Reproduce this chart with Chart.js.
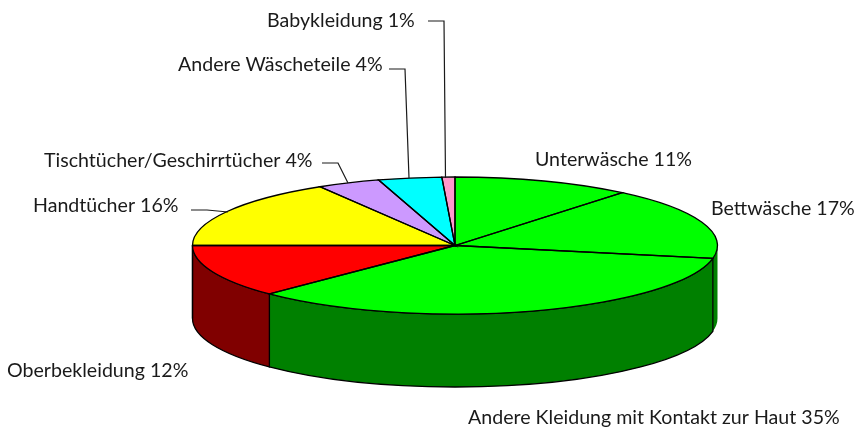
<!DOCTYPE html>
<html>
<head>
<meta charset="utf-8">
<style>
  html, body { margin: 0; padding: 0; background: #fff; }
  #wrap { width: 855px; height: 429px; }
</style>
<script src="https://cdn.jsdelivr.net/npm/chart.js@4/dist/chart.umd.min.js"></script>
</head>
<body>
<div id="wrap"><canvas id="pieChart" width="855" height="429"></canvas></div>
<script>
const categories = ['Unterwäsche', 'Bettwäsche', 'Andere Kleidung mit Kontakt zur Haut', 'Oberbekleidung', 'Handtücher', 'Tischtücher/Geschirrtücher', 'Andere Wäscheteile', 'Babykleidung'];
const printedShares = [11, 17, 35, 12, 16, 4, 4, 1];
const sliceValues = [11, 17, 34.5, 12.5, 16.4, 3.9, 3.9, 0.8];

const topColors = ['#00ff00', '#00ff00', '#00ff00', '#ff0000', '#ffff00', '#cc99ff', '#00ffff', '#ff99cc'];
const sideColors = ['#008000', '#008000', '#008000', '#800000', '#808000', '#663399', '#008080', '#993366'];

const RADIUS = 262.5;
const SQUASH = 68.5 / 262.5;
const DEPTH = 73;
const TEXT_FONT = '19.6px Lato';

// left x and baseline y of each label, same order as categories
const labelSpots = [[535, 166], [711, 215], [468, 424], [7, 377], [33, 212], [44, 167], [178, 71], [267, 26.5]];
const leaders = [
  [[191, 210], [207, 210], [228, 212]],
  [[322, 163], [338, 163], [348, 183]],
  [[389, 69], [405, 69], [409, 178]],
  [[428, 21], [444, 21], [445.5, 178]],
];

function drawWalls(ctx, arcs) {
  const ry = RADIUS * SQUASH;
  arcs.forEach((arc, i) => {
    const from = Math.max(arc.startAngle, 0);
    const to = Math.min(arc.endAngle, Math.PI);
    if (to <= from) return;
    const wall = new Path2D();
    wall.ellipse(arc.x, arc.y, RADIUS, ry, 0, from, to);
    wall.ellipse(arc.x, arc.y + DEPTH, RADIUS, ry, 0, to, from, true);
    wall.closePath();
    ctx.fillStyle = sideColors[i];
    ctx.fill(wall);
    if (from > 0) {
      ctx.strokeStyle = '#000';
      ctx.lineWidth = 1.3;
      ctx.stroke(wall);
    }
  });
}

const squashedPie = {
  id: 'squashedPie',
  beforeDatasetDraw(chart) {
    const ctx = chart.ctx;
    const arcs = chart.getDatasetMeta(0).data;
    ctx.save();
    drawWalls(ctx, arcs);
    ctx.restore();
    ctx.save();
    ctx.translate(arcs[0].x, arcs[0].y);
    ctx.scale(1, SQUASH);
    ctx.translate(-arcs[0].x, -arcs[0].y);
  },
  afterDatasetDraw(chart) {
    const ctx = chart.ctx;
    ctx.restore();
    // outlines go on after the squash so the line stays even all round
    const ry = RADIUS * SQUASH;
    ctx.save();
    ctx.strokeStyle = '#000';
    ctx.lineWidth = 1.3;
    chart.getDatasetMeta(0).data.forEach((arc) => {
      ctx.beginPath();
      ctx.moveTo(arc.x, arc.y);
      ctx.ellipse(arc.x, arc.y, RADIUS, ry, 0, arc.startAngle, arc.endAngle);
      ctx.closePath();
      ctx.stroke();
    });
    ctx.restore();
  },
};

const outerLabels = {
  id: 'outerLabels',
  afterDraw(chart) {
    const ctx = chart.ctx;
    ctx.save();
    ctx.strokeStyle = '#1a1a1a';
    ctx.lineWidth = 1.2;
    leaders.forEach((line) => {
      ctx.beginPath();
      line.forEach(([x, y], i) => (i ? ctx.lineTo(x, y) : ctx.moveTo(x, y)));
      ctx.stroke();
    });
    ctx.fillStyle = '#1a1a1a';
    ctx.font = TEXT_FONT;
    ctx.textAlign = 'left';
    ctx.textBaseline = 'alphabetic';
    categories.forEach((name, i) => {
      ctx.fillText(name + ' ' + printedShares[i] + '%', labelSpots[i][0], labelSpots[i][1]);
    });
    ctx.restore();
  },
};

new Chart(document.getElementById('pieChart').getContext('2d'), {
  type: 'pie',
  data: {
    labels: categories,
    datasets: [
      {
        data: sliceValues,
        backgroundColor: topColors,
        borderWidth: 0,
        clip: false,
      },
    ],
  },
  options: {
    responsive: false,
    animation: false,
    radius: RADIUS,
    layout: { padding: { left: 55, top: 62 } },
    events: [],
    plugins: {
      legend: { display: false },
      tooltip: { enabled: false },
    },
  },
  plugins: [squashedPie, outerLabels],
});
</script>
</body>
</html>
